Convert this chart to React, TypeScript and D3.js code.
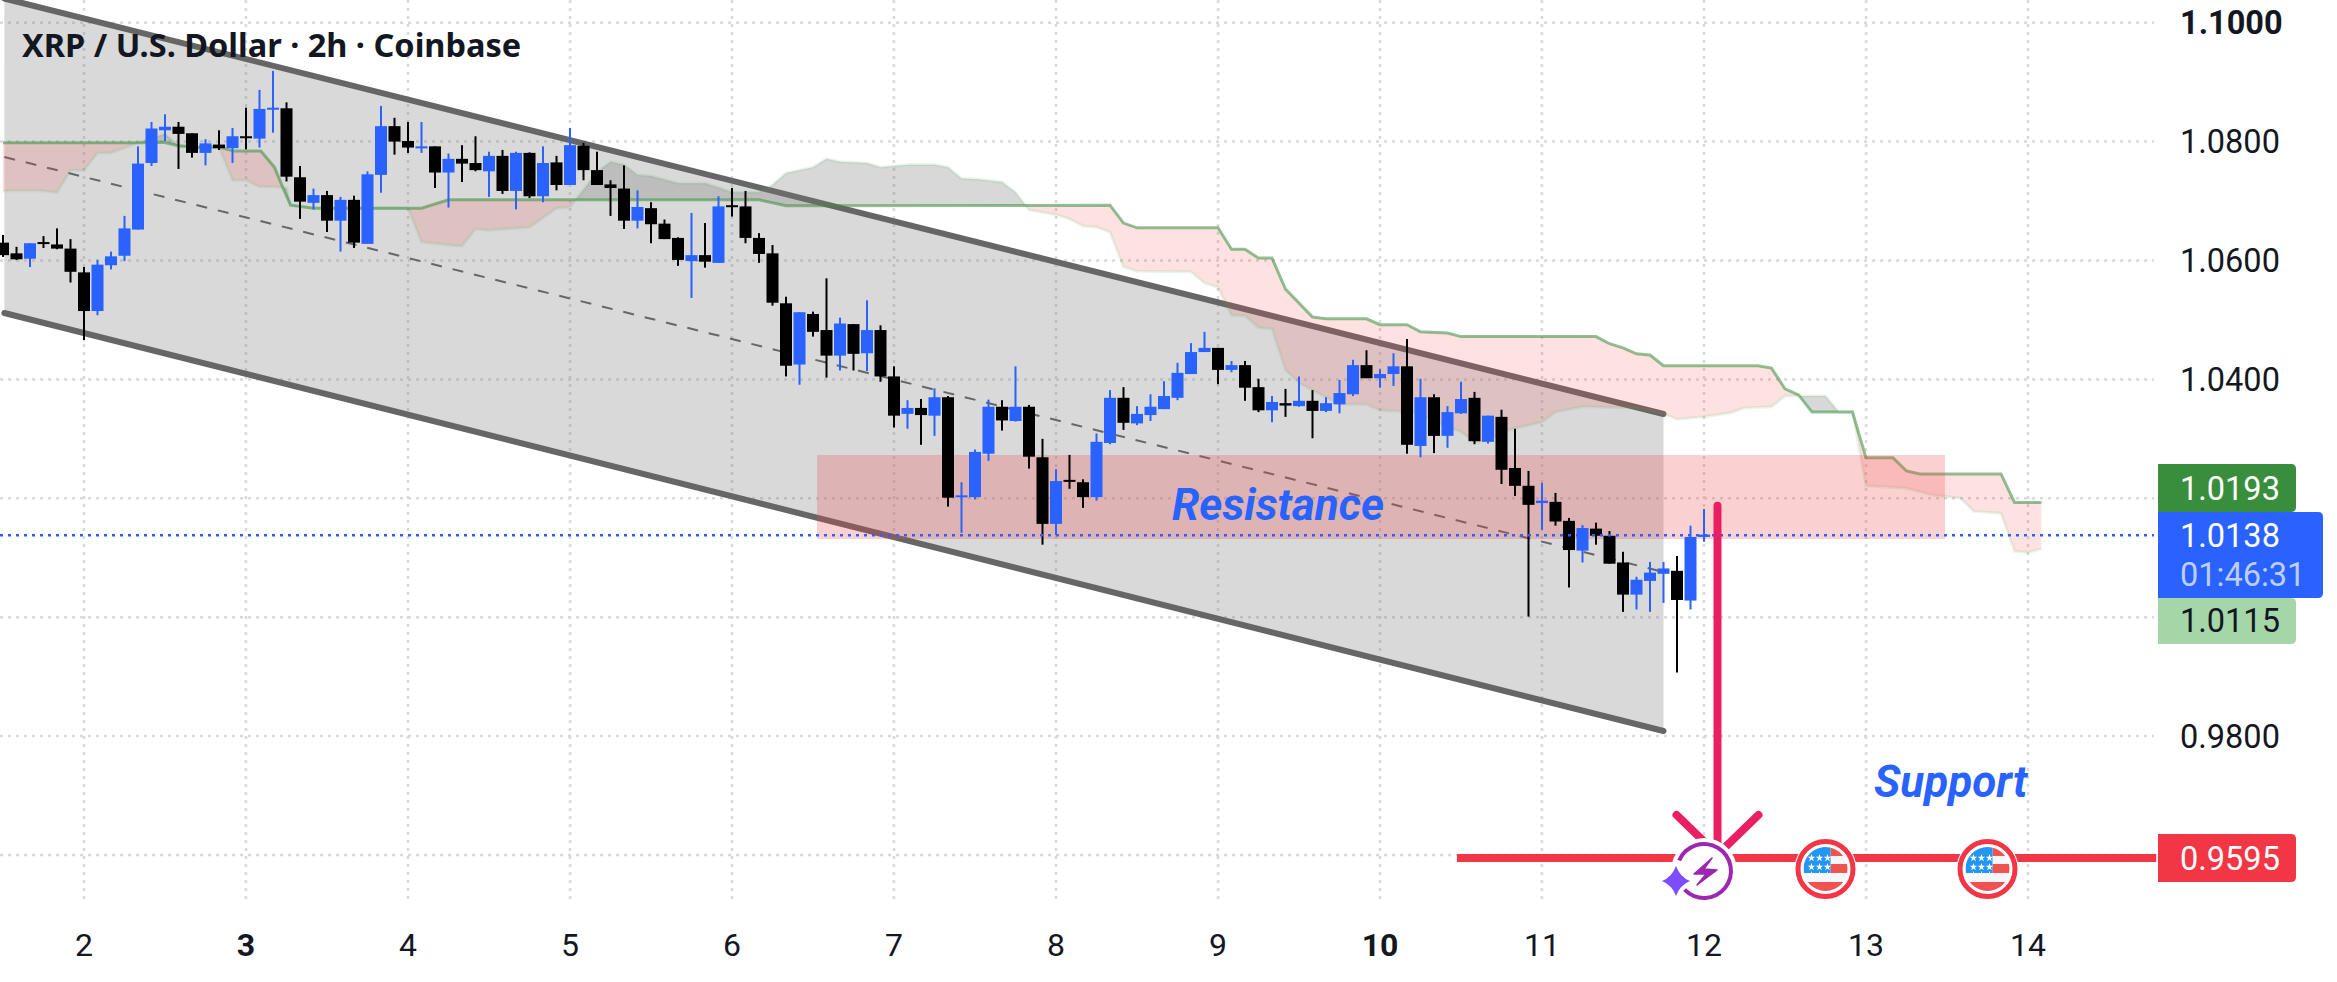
import React from 'react';
import * as d3 from 'd3';

const W = 2337;
const H = 982;

// 2h bars, bar 0 = start of day 2, first drawn bar is -6
const firstBar = -6;
const opens = [
  1.0630,1.0612,1.0603,1.0631,1.0627,1.0620,1.0580,1.0515,1.0592,1.0608,
  1.0652,1.0764,1.0819,1.0825,1.0814,1.0781,1.0795,1.0789,1.0809,1.0805,
  1.0855,1.0856,1.0740,1.0697,1.0710,1.0667,1.0702,1.0628,1.0744,1.0826,
  1.0801,1.0790,1.0792,1.0748,1.0771,1.0764,1.0750,1.0776,1.0717,1.0781,
  1.0708,1.0765,1.0727,1.0793,1.0752,1.0728,1.0721,1.0667,1.0688,1.0662,
  1.0638,1.0599,1.0609,1.0596,1.0693,1.0691,1.0638,1.0612,1.0528,1.0425,
  1.0510,1.0483,1.0440,1.0493,1.0444,1.0483,1.0405,1.0342,1.0352,1.0339,
  1.0370,1.0203,1.0202,1.0275,1.0354,1.0330,1.0354,1.0269,1.0157,1.0231,
  1.0227,1.0202,1.0293,1.0369,1.0326,1.0340,1.0350,1.0369,1.0409,1.0446,
  1.0453,1.0416,1.0424,1.0387,1.0348,1.0360,1.0355,1.0364,1.0347,1.0358,
  1.0375,1.0424,1.0402,1.0409,1.0422,1.0288,1.0370,1.0305,1.0343,1.0369,
  1.0295,1.0337,1.0251,1.0221,1.0192,1.0194,1.0162,1.0112,1.0149,1.0137,
  1.0092,1.0038,1.0061,1.0073,1.0078,1.0028,1.0135,
];
const highs = [
  1.0643,1.0623,1.0629,1.0641,1.0654,1.0636,1.0589,1.0601,1.0615,1.0675,
  1.0792,1.0833,1.0846,1.0833,1.0814,1.0804,1.0819,1.0823,1.0857,1.0887,
  1.0919,1.0866,1.0759,1.0721,1.0717,1.0707,1.0709,1.0750,1.0860,1.0840,
  1.0833,1.0833,1.0792,1.0780,1.0794,1.0809,1.0783,1.0786,1.0783,1.0782,
  1.0792,1.0776,1.0823,1.0798,1.0783,1.0735,1.0760,1.0718,1.0698,1.0669,
  1.0639,1.0680,1.0663,1.0708,1.0722,1.0717,1.0646,1.0626,1.0539,1.0513,
  1.0514,1.0570,1.0504,1.0493,1.0533,1.0491,1.0422,1.0365,1.0367,1.0385,
  1.0372,1.0227,1.0282,1.0366,1.0365,1.0422,1.0357,1.0300,1.0249,1.0273,
  1.0232,1.0309,1.0382,1.0387,1.0355,1.0375,1.0397,1.0428,1.0461,1.0480,
  1.0453,1.0431,1.0431,1.0401,1.0372,1.0384,1.0405,1.0382,1.0370,1.0399,
  1.0433,1.0449,1.0417,1.0444,1.0468,1.0401,1.0375,1.0355,1.0396,1.0379,
  1.0339,1.0349,1.0317,1.0246,1.0226,1.0209,1.0167,1.0155,1.0159,1.0145,
  1.0110,1.0068,1.0093,1.0093,1.0103,1.0154,1.0182,
];
const lows = [
  1.0606,1.0601,1.0589,1.0621,1.0619,1.0563,1.0466,1.0508,1.0585,1.0599,
  1.0652,1.0759,1.0801,1.0754,1.0773,1.0760,1.0786,1.0764,1.0787,1.0790,
  1.0815,1.0733,1.0670,1.0686,1.0648,1.0615,1.0621,1.0628,1.0714,1.0778,
  1.0781,1.0781,1.0722,1.0689,1.0732,1.0750,1.0707,1.0712,1.0686,1.0705,
  1.0698,1.0718,1.0727,1.0735,1.0727,1.0675,1.0653,1.0654,1.0629,1.0636,
  1.0591,1.0537,1.0588,1.0596,1.0674,1.0629,1.0596,1.0524,1.0405,1.0391,
  1.0472,1.0403,1.0415,1.0415,1.0414,1.0396,1.0319,1.0317,1.0290,1.0305,
  1.0186,1.0142,1.0198,1.0263,1.0314,1.0329,1.0250,1.0122,1.0138,1.0216,
  1.0184,1.0196,1.0291,1.0315,1.0323,1.0330,1.0350,1.0365,1.0409,1.0446,
  1.0392,1.0412,1.0364,1.0345,1.0328,1.0337,1.0354,1.0301,1.0345,1.0343,
  1.0372,1.0402,1.0386,1.0389,1.0275,1.0269,1.0276,1.0285,1.0342,1.0291,
  1.0292,1.0224,1.0204,1.0001,1.0147,1.0154,1.0050,1.0092,1.0122,1.0090,
  1.0009,1.0013,1.0009,1.0024,0.9907,1.0013,1.0127,
];
const closes = [
  1.0609,1.0602,1.0629,1.0628,1.0620,1.0581,1.0515,1.0593,1.0607,1.0654,
  1.0763,1.0822,1.0825,1.0813,1.0781,1.0797,1.0789,1.0809,1.0806,1.0855,
  1.0857,1.0741,1.0699,1.0710,1.0667,1.0702,1.0630,1.0745,1.0826,1.0800,
  1.0790,1.0792,1.0748,1.0771,1.0763,1.0752,1.0776,1.0717,1.0781,1.0708,
  1.0764,1.0727,1.0794,1.0752,1.0727,1.0722,1.0667,1.0690,1.0661,1.0636,
  1.0601,1.0609,1.0598,1.0691,1.0690,1.0638,1.0611,1.0529,1.0423,1.0513,
  1.0480,1.0440,1.0494,1.0443,1.0483,1.0405,1.0339,1.0352,1.0340,1.0370,
  1.0201,1.0205,1.0278,1.0354,1.0331,1.0354,1.0270,1.0157,1.0229,1.0228,
  1.0202,1.0295,1.0369,1.0327,1.0342,1.0354,1.0372,1.0411,1.0446,1.0453,
  1.0416,1.0424,1.0386,1.0348,1.0362,1.0356,1.0364,1.0347,1.0360,1.0377,
  1.0424,1.0402,1.0409,1.0422,1.0290,1.0370,1.0305,1.0345,1.0367,1.0296,
  1.0339,1.0248,1.0221,1.0189,1.0196,1.0161,1.0113,1.0150,1.0137,1.0090,
  1.0038,1.0063,1.0075,1.0082,1.0029,1.0135,1.0139,
];

// cloud spans as [bar, price]
const spanA: [number, number][] = [
  [-6,1.0798],[4.4,1.0798],[5.9,1.0799],[7,1.0793],[8.5,1.0790],[10,1.0791],[11.1,1.0784],[13.1,1.0784],
  [14.1,1.0757],[14.8,1.0719],[15.3,1.0693],[17,1.0688],[25,1.0688],[27,1.0702],[50,1.0702],[52,1.0692],
  [76,1.0693],[77,1.0663],[78,1.0655],[84,1.0655],[85,1.0619],[86,1.0619],[87,1.0604],[88,1.0604],
  [89,1.0552],[91,1.0505],[92,1.0502],[95,1.0502],[96,1.0492],[98,1.0492],[99,1.0480],[101,1.0478],
  [102,1.0472],[112,1.0472],[113,1.0460],[114,1.0453],[115,1.0443],[116,1.0441],[117,1.0423],[124,1.0423],
  [125,1.0419],[126,1.0384],[127,1.0374],[128,1.0345],[131,1.0345],[132,1.0268],[134,1.0268],[135,1.0246],
  [136,1.0241],[142,1.0241],[143,1.0193],[145,1.0193],
];
const spanB: [number, number][] = [
  [-6,1.0717],[-3,1.0717],[-2,1.0714],[-1,1.0752],[0,1.0752],[1,1.0781],[2,1.0781],[4,1.0798],[6,1.0813],
  [7,1.0793],[10,1.0791],[11,1.0735],[12,1.0735],[13,1.0724],[14,1.0724],[15,1.0722],[15.3,1.0693],[17,1.0688],
  [24,1.0688],[25,1.0631],[27,1.0626],[28,1.0624],[29,1.0653],[30,1.0651],[33,1.0656],[35,1.0688],[36,1.0690],
  [37,1.0719],[38,1.0749],[39,1.0766],[40,1.0761],[41,1.0744],[42,1.0742],[44,1.0730],[46,1.0730],[47,1.0723],
  [48,1.0715],[50,1.0715],[51,1.0727],[52,1.0747],[54,1.0757],[55,1.0771],[56,1.0766],[58,1.0764],[59,1.0757],
  [61,1.0761],[63,1.0761],[64,1.0757],[65,1.0738],[66,1.0737],[68,1.0732],[69,1.0715],[70,1.0685],[72,1.0677],
  [73,1.0670],[74,1.0658],[75,1.0656],[76,1.0648],[77,1.0589],[78,1.0582],[82,1.0581],[83,1.0562],[84,1.0555],
  [85,1.0508],[86,1.0507],[87,1.0487],[88,1.0485],[89,1.0416],[90,1.0394],[91,1.0382],[93,1.0358],[95,1.0358],
  [96,1.0348],[97,1.0347],[99,1.0344],[100,1.0329],[102,1.0312],[103,1.0295],[104,1.0298],[105,1.0311],[106,1.0318],
  [108,1.0328],[109,1.0345],[111,1.0354],[115,1.0352],[117,1.0342],[118,1.0333],[120,1.0337],[122,1.0344],[123,1.0352],
  [125,1.0354],[126,1.0372],[129,1.0372],[130,1.0345],[131,1.0345],[132,1.0221],[135,1.0217],[137,1.0205],[139,1.0200],
  [140,1.0178],[142,1.0175],[143,1.0111],[144,1.0109],[145,1.0115],
];

const channelBars = [-5.9, 117];
const channelUpper = [1.10407, 1.03418];
const channelMiddle = [1.07741, 1.0076];
const channelLower = [1.05117, 0.98086];

const resistanceBars = [54.3, 137.85];
const resistancePrices = [1.02728, 1.01315];

const gridPrices = [1.1, 1.08, 1.06, 1.04, 1.02, 1.0, 0.98, 0.96];
const priceLabels = [1.1, 1.08, 1.06, 1.04, 0.98];
const days = [2, 3, 4, 5, 6, 7, 8, 9, 10, 11, 12, 13, 14];
const boldDays = [3, 10];

const lastPrice = 1.0138;
const spanALast = 1.0193;
const spanBLast = 1.0115;
const supportPrice = 0.9595;
const countdown = '01:46:31';

const supportBars = [101.7, 153.5];
const arrowBar = 121;
const arrowTop = 1.01876;
const boltBar = 120;
const flagBars = [129, 141];

const BLUE = '#2962ff';
const RED = '#f23645';
const FONT = 'Roboto, sans-serif';

const x = d3.scaleLinear().domain([0, 144]).range([84, 2028]);
const y = d3.scaleLinear().domain([1.1, 0.96]).range([22.7, 855]);

const line = d3.line<[number, number]>().x(d => x(d[0])).y(d => y(d[1]));

function polygon(top: [number, number][], bottom: [number, number][]) {
  return line([...top, ...[...bottom].reverse()]) + 'Z';
}

const starPath = d3.symbol(d3.symbolStar, 18)() as string;
const ringPath = d3.arc()({
  innerRadius: 25,
  outerRadius: 29,
  startAngle: (-67 * Math.PI) / 180,
  endAngle: (226 * Math.PI) / 180,
}) as string;

function Flag({ id, cx, cy }: { id: string; cx: number; cy: number }) {
  const rows = [-11, -2, 6];
  const cols = [-14, -6, 2];
  return (
    <g transform={`translate(${cx},${cy})`}>
      <circle r={31} fill="#fff" />
      <circle r={27.5} fill="#fff" stroke={RED} strokeWidth={5} />
      <clipPath id={id}>
        <circle r={22} />
      </clipPath>
      <g clipPath={`url(#${id})`}>
        <rect x={-22} y={-22} width={44} height={44} fill="#f5f6fb" />
        <rect x={5} y={-22} width={18} height={9} fill="#ef5350" />
        <rect x={5} y={-5} width={18} height={9} fill="#ef5350" />
        <rect x={-22} y={13} width={44} height={10} fill="#ef5350" />
        <rect x={-22} y={-22} width={27} height={26} fill="#2196f3" />
        {rows.map(r => cols.map(c => (
          <path key={`${r}${c}`} d={starPath} transform={`translate(${c},${r})`} fill="#fff" />
        )))}
      </g>
    </g>
  );
}

function Badge({ top, bottom, right, fill }: { top: number; bottom: number; right: number; fill: string }) {
  return (
    <path
      d={`M2158,${top}H${right - 5}Q${right},${top} ${right},${top + 5}V${bottom - 5}Q${right},${bottom} ${right - 5},${bottom}H2158Z`}
      fill={fill}
    />
  );
}

export default function App() {
  const barsData = opens.map((o, i) => ({
    bar: firstBar + i,
    o,
    h: highs[i],
    l: lows[i],
    c: closes[i],
  }));

  const upper = channelBars.map((b, i) => [b, channelUpper[i]] as [number, number]);
  const middle = channelBars.map((b, i) => [b, channelMiddle[i]] as [number, number]);
  const lower = channelBars.map((b, i) => [b, channelLower[i]] as [number, number]);

  const cloudPath = polygon(spanA, spanB);
  const left = spanA[0][0];
  const right = spanA[spanA.length - 1][0];
  const aboveA = polygon(spanA, [[left, 1.2], [right, 1.2]]);
  const belowA = polygon(spanA, [[left, 0.8], [right, 0.8]]);

  const tipY = y(supportPrice);
  const ax = x(arrowBar);
  const flagY = tipY + 11;
  const boltX = x(boltBar);
  const boltY = tipY + 13;

  return (
    <svg
      width={W}
      height={H}
      viewBox={`0 0 ${W} ${H}`}
      style={{ position: 'absolute', left: 0, top: 0, background: '#fff' }}
      fontFamily={FONT}
    >
      <defs>
        <clipPath id="above-a"><path d={aboveA} /></clipPath>
        <clipPath id="below-a"><path d={belowA} /></clipPath>
      </defs>

      {/* grid */}
      <g stroke="#d9d9d9" strokeWidth={2.5} strokeDasharray="3 5">
        {gridPrices.map(p => (
          <line key={p} x1={0} x2={2154} y1={y(p)} y2={y(p)} />
        ))}
        {days.map(d => (
          <line key={d} x1={x((d - 2) * 12)} x2={x((d - 2) * 12)} y1={0} y2={904} />
        ))}
      </g>

      {/* channel */}
      <path d={polygon(upper, lower)} fill="rgba(128,128,128,0.3)" />
      <path d={line(upper) as string} fill="none" stroke="#666" strokeWidth={6} strokeLinecap="round" />
      <path d={line(lower) as string} fill="none" stroke="#666" strokeWidth={6} strokeLinecap="round" />
      <path d={line(middle) as string} fill="none" stroke="#666" strokeWidth={2} strokeDasharray="11 11" />

      {/* cloud */}
      <path d={cloudPath} fill="rgba(247,82,82,0.17)" clipPath="url(#below-a)" />
      <path d={cloudPath} fill="rgba(120,120,120,0.29)" clipPath="url(#above-a)" />
      <path d={line(spanB) as string} fill="none" stroke="rgba(76,175,80,0.12)" strokeWidth={3} />
      <path d={line(spanA) as string} fill="none" stroke="rgba(56,142,60,0.55)" strokeWidth={3} />

      {/* resistance zone */}
      <rect
        x={x(resistanceBars[0])}
        y={y(resistancePrices[0])}
        width={x(resistanceBars[1]) - x(resistanceBars[0])}
        height={y(resistancePrices[1]) - y(resistancePrices[0])}
        fill="rgba(235,67,67,0.25)"
      />

      {/* candles */}
      {barsData.map(d => {
        const color = d.c >= d.o ? BLUE : '#000';
        const top = y(Math.max(d.o, d.c));
        const bottom = y(Math.min(d.o, d.c));
        return (
          <g key={d.bar} fill={color}>
            <rect x={x(d.bar) - 1} y={y(d.h)} width={2} height={y(d.l) - y(d.h)} />
            <rect x={x(d.bar) - 6} y={top} width={12} height={Math.max(bottom - top, 2)} />
          </g>
        );
      })}

      {/* last price line */}
      <line x1={0} x2={2154} y1={y(lastPrice)} y2={y(lastPrice)} stroke={BLUE} strokeWidth={2.5} strokeDasharray="3 5" />

      <text x={22} y={56.5} fontSize={32.5} fontWeight={700} fontFamily="'Noto Sans', sans-serif" fill="#131722">XRP / U.S. Dollar · 2h · Coinbase</text>

      <text x={1172} y={520} fontSize={44} fontWeight={700} fontStyle="italic" fill={BLUE}>Resistance</text>
      <text x={1874} y={797} fontSize={44} fontWeight={700} fontStyle="italic" fill={BLUE}>Support</text>

      {/* support line and arrow */}
      <line x1={x(supportBars[0])} x2={x(supportBars[1])} y1={tipY} y2={tipY} stroke={RED} strokeWidth={8} />
      <line x1={ax} x2={ax} y1={y(arrowTop)} y2={tipY - 10} stroke="#e91e63" strokeWidth={8} strokeLinecap="round" />
      <path
        d={`M${ax - 41},${tipY - 43}L${ax - 8},${tipY - 11}M${ax + 41},${tipY - 43}L${ax + 8},${tipY - 11}`}
        fill="none"
        stroke="#e91e63"
        strokeWidth={8}
        strokeLinecap="round"
      />

      {/* lightning badge */}
      <g transform={`translate(${boltX},${boltY})`}>
        <circle r={33} fill="#fff" />
        <path d={ringPath} fill="#9c27b0" />
        <path d="M8,-13L-10,3L2,3L-7,14L13,-1L0,-2Z" fill="#9c27b0" stroke="#9c27b0" strokeWidth={1.5} strokeLinejoin="round" />
        <path d="M-28,-5Q-24,6 -14,10Q-24,14 -28,25Q-32,14 -42,10Q-32,6 -28,-5Z" fill="#fff" stroke="#fff" strokeWidth={5} />
        <path d="M-28,-5Q-24,6 -14,10Q-24,14 -28,25Q-32,14 -42,10Q-32,6 -28,-5Z" fill="#7c4dff" />
      </g>

      {flagBars.map((b, i) => (
        <Flag key={b} id={`flag-${i}`} cx={x(b)} cy={flagY} />
      ))}

      {/* price axis */}
      <g fontSize={32.5} fill="#131722">
        {priceLabels.map(p => (
          <text key={p} x={2180} y={y(p) + 11.5} fontWeight={p === 1.1 ? 700 : 400}>{p.toFixed(4)}</text>
        ))}
      </g>

      <Badge top={464} bottom={512} right={2296} fill="#388e3c" />
      <Badge top={598} bottom={644} right={2296} fill="#a5d6a7" />
      <Badge top={512} bottom={598} right={2323} fill={BLUE} />
      <Badge top={834} bottom={882} right={2296} fill={RED} />
      <g fontSize={32.5}>
        <text x={2180} y={500} fill="#fff">{spanALast.toFixed(4)}</text>
        <text x={2180} y={546.5} fill="#fff">{lastPrice.toFixed(4)}</text>
        <text x={2180} y={586} fill="rgba(255,255,255,0.7)">{countdown}</text>
        <text x={2180} y={631.5} fill="#131722">{spanBLast.toFixed(4)}</text>
        <text x={2180} y={870} fill="#fff">{supportPrice.toFixed(4)}</text>
      </g>

      {/* day axis */}
      <g fontSize={32} fill="#131722" textAnchor="middle">
        {days.map(d => (
          <text key={d} x={x((d - 2) * 12)} y={955.5} fontWeight={boldDays.includes(d) ? 700 : 400}>{d}</text>
        ))}
      </g>
    </svg>
  );
}
